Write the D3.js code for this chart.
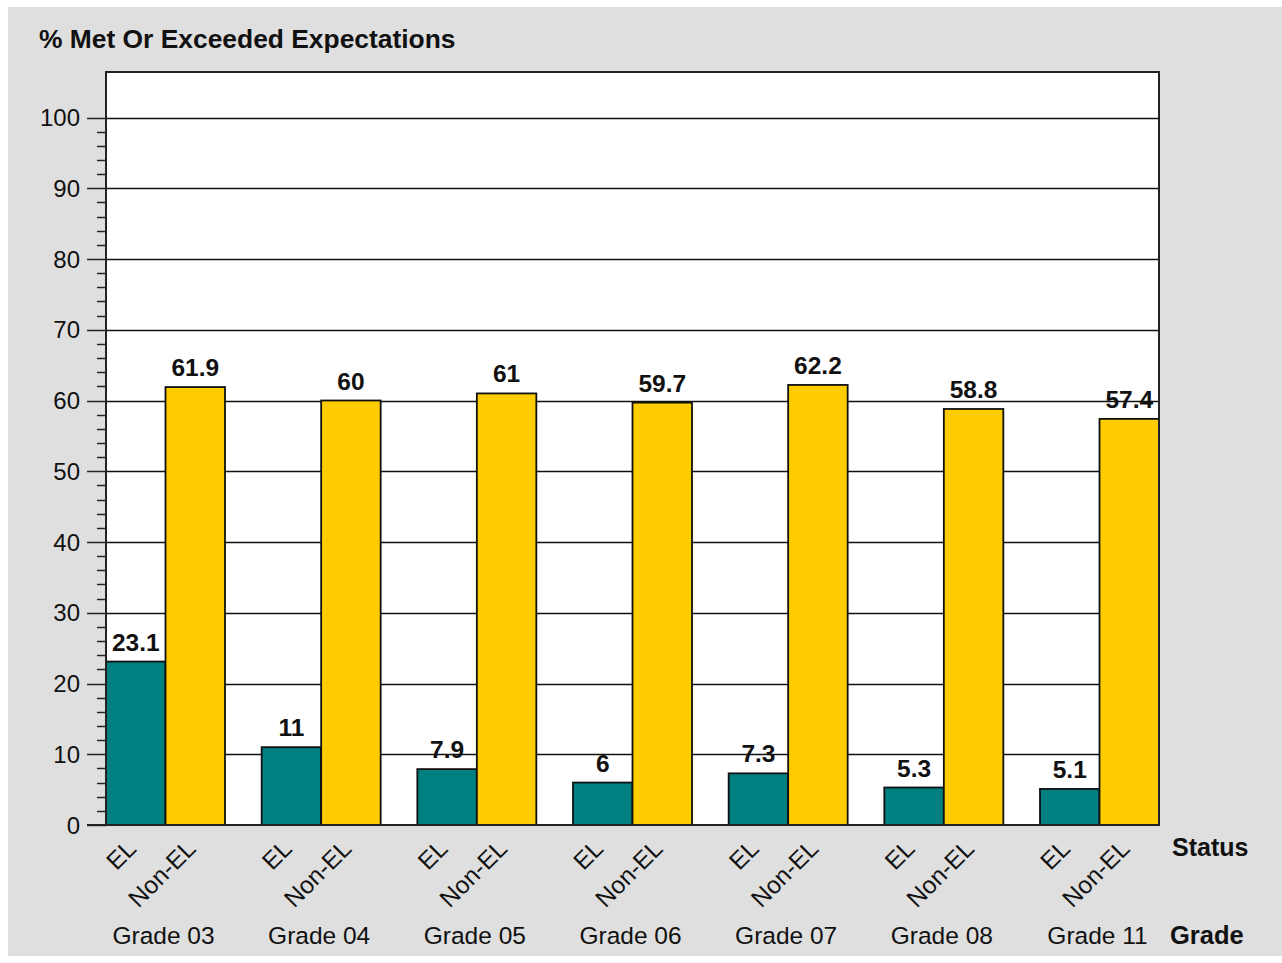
<!DOCTYPE html>
<html>
<head>
<meta charset="utf-8">
<script src="https://cdn.jsdelivr.net/npm/d3@7"></script>
<style>
  body { margin: 0; background: #fff; }
  svg text { font-family: "Liberation Sans", Arial, sans-serif; fill: #111; }
</style>
</head>
<body>
<svg width="1282" height="963"></svg>
<script>
var grades = ["Grade 03", "Grade 04", "Grade 05", "Grade 06", "Grade 07", "Grade 08", "Grade 11"];
var statuses = ["EL", "Non-EL"];
var elValues = [23.1, 11, 7.9, 6, 7.3, 5.3, 5.1];
var nonElValues = [61.9, 60, 61, 59.7, 62.2, 58.8, 57.4];
var yTicks = [0, 10, 20, 30, 40, 50, 60, 70, 80, 90, 100];
var colors = ["#008080", "#ffcc00"];

var svg = d3.select("svg");

var plotLeft = 106, plotRight = 1159, plotTop = 72, plotBottom = 825;

// background panel
svg.append("rect")
  .attr("x", 8).attr("y", 7)
  .attr("width", 1274).attr("height", 949)
  .attr("fill", "#dfdfdf");

var y = d3.scaleLinear()
  .domain([0, 100])
  .range([plotBottom, 117.5]);

var x0 = d3.scaleBand()
  .domain(grades)
  .range([plotLeft, plotRight])
  .paddingInner(0.2355)
  .paddingOuter(0);

var x1 = d3.scaleBand()
  .domain(statuses)
  .range([0, x0.bandwidth()]);

// plot area
svg.append("rect")
  .attr("x", plotLeft).attr("y", plotTop)
  .attr("width", plotRight - plotLeft).attr("height", plotBottom - plotTop)
  .attr("fill", "#fff");

// gridlines
svg.append("g")
  .selectAll("line")
  .data(yTicks.filter(function (d) { return d > 0; }))
  .enter().append("line")
  .attr("x1", plotLeft).attr("x2", plotRight)
  .attr("y1", function (d) { return Math.round(y(d)) + 0.5; })
  .attr("y2", function (d) { return Math.round(y(d)) + 0.5; })
  .attr("stroke", "#111")
  .attr("stroke-width", 1.4);

// y axis: major and minor ticks
var minor = d3.range(0, 101, 2).filter(function (d) { return d % 10 !== 0; });
svg.append("g")
  .selectAll("line")
  .data(minor)
  .enter().append("line")
  .attr("x1", 97).attr("x2", plotLeft)
  .attr("y1", function (d) { return Math.round(y(d)) + 0.5; })
  .attr("y2", function (d) { return Math.round(y(d)) + 0.5; })
  .attr("stroke", "#222").attr("stroke-width", 1.5);

svg.append("g")
  .selectAll("line")
  .data(yTicks)
  .enter().append("line")
  .attr("x1", 87).attr("x2", plotLeft)
  .attr("y1", function (d) { return Math.round(y(d)) + 0.5; })
  .attr("y2", function (d) { return Math.round(y(d)) + 0.5; })
  .attr("stroke", "#222").attr("stroke-width", 1.5);

svg.append("g")
  .selectAll("text")
  .data(yTicks)
  .enter().append("text")
  .attr("x", 80)
  .attr("y", function (d) { return y(d) + 8.6; })
  .attr("text-anchor", "end")
  .style("font-size", "24px")
  .text(function (d) { return d; });

// bars
var rows = grades.map(function (g, i) {
  return { grade: g, values: [
    { status: "EL", value: elValues[i] },
    { status: "Non-EL", value: nonElValues[i] }
  ] };
});

var groups = svg.append("g")
  .selectAll("g")
  .data(rows)
  .enter().append("g")
  .attr("transform", function (d) { return "translate(" + x0(d.grade) + ",0)"; });

groups.selectAll("rect")
  .data(function (d) { return d.values; })
  .enter().append("rect")
  .attr("x", function (d) { return x1(d.status); })
  .attr("y", function (d) { return y(d.value); })
  .attr("width", x1.bandwidth())
  .attr("height", function (d) { return plotBottom - y(d.value); })
  .attr("fill", function (d, i) { return colors[i]; })
  .attr("stroke", "#111")
  .attr("stroke-width", 1.8);

groups.selectAll("text.val")
  .data(function (d) { return d.values; })
  .enter().append("text")
  .attr("class", "val")
  .attr("x", function (d) { return x1(d.status) + x1.bandwidth() / 2; })
  .attr("y", function (d) { return y(d.value) - 11; })
  .attr("text-anchor", "middle")
  .style("font-size", "24.5px")
  .style("font-weight", "bold")
  .text(function (d) { return d.value; });

// rotated status labels
groups.selectAll("text.status")
  .data(function (d) { return d.values; })
  .enter().append("text")
  .attr("class", "status")
  .attr("transform", function (d) {
    return "translate(" + (x1(d.status) + x1.bandwidth() / 2 + 2) + "," + 850 + ") rotate(-45)";
  })
  .attr("text-anchor", "end")
  .style("font-size", "24.5px")
  .text(function (d) { return d.status; });

// grade labels
groups.append("text")
  .attr("x", x0.bandwidth() / 2 - 2)
  .attr("y", 944)
  .attr("text-anchor", "middle")
  .style("font-size", "24.5px")
  .text(function (d) { return d.grade; });

// frame and axes
svg.append("rect")
  .attr("x", plotLeft).attr("y", plotTop)
  .attr("width", plotRight - plotLeft).attr("height", plotBottom - plotTop)
  .attr("fill", "none")
  .attr("stroke", "#222")
  .attr("stroke-width", 2);

svg.append("line")
  .attr("x1", 87).attr("x2", plotRight)
  .attr("y1", plotBottom).attr("y2", plotBottom)
  .attr("stroke", "#222").attr("stroke-width", 2);

// titles
svg.append("text")
  .attr("x", 39).attr("y", 48)
  .style("font-size", "26.4px")
  .style("font-weight", "bold")
  .text("% Met Or Exceeded Expectations");

svg.append("text")
  .attr("x", 1172).attr("y", 856)
  .style("font-size", "25px")
  .style("font-weight", "bold")
  .text("Status");

svg.append("text")
  .attr("x", 1170).attr("y", 944)
  .style("font-size", "25.5px")
  .style("font-weight", "bold")
  .text("Grade");
</script>
</body>
</html>
